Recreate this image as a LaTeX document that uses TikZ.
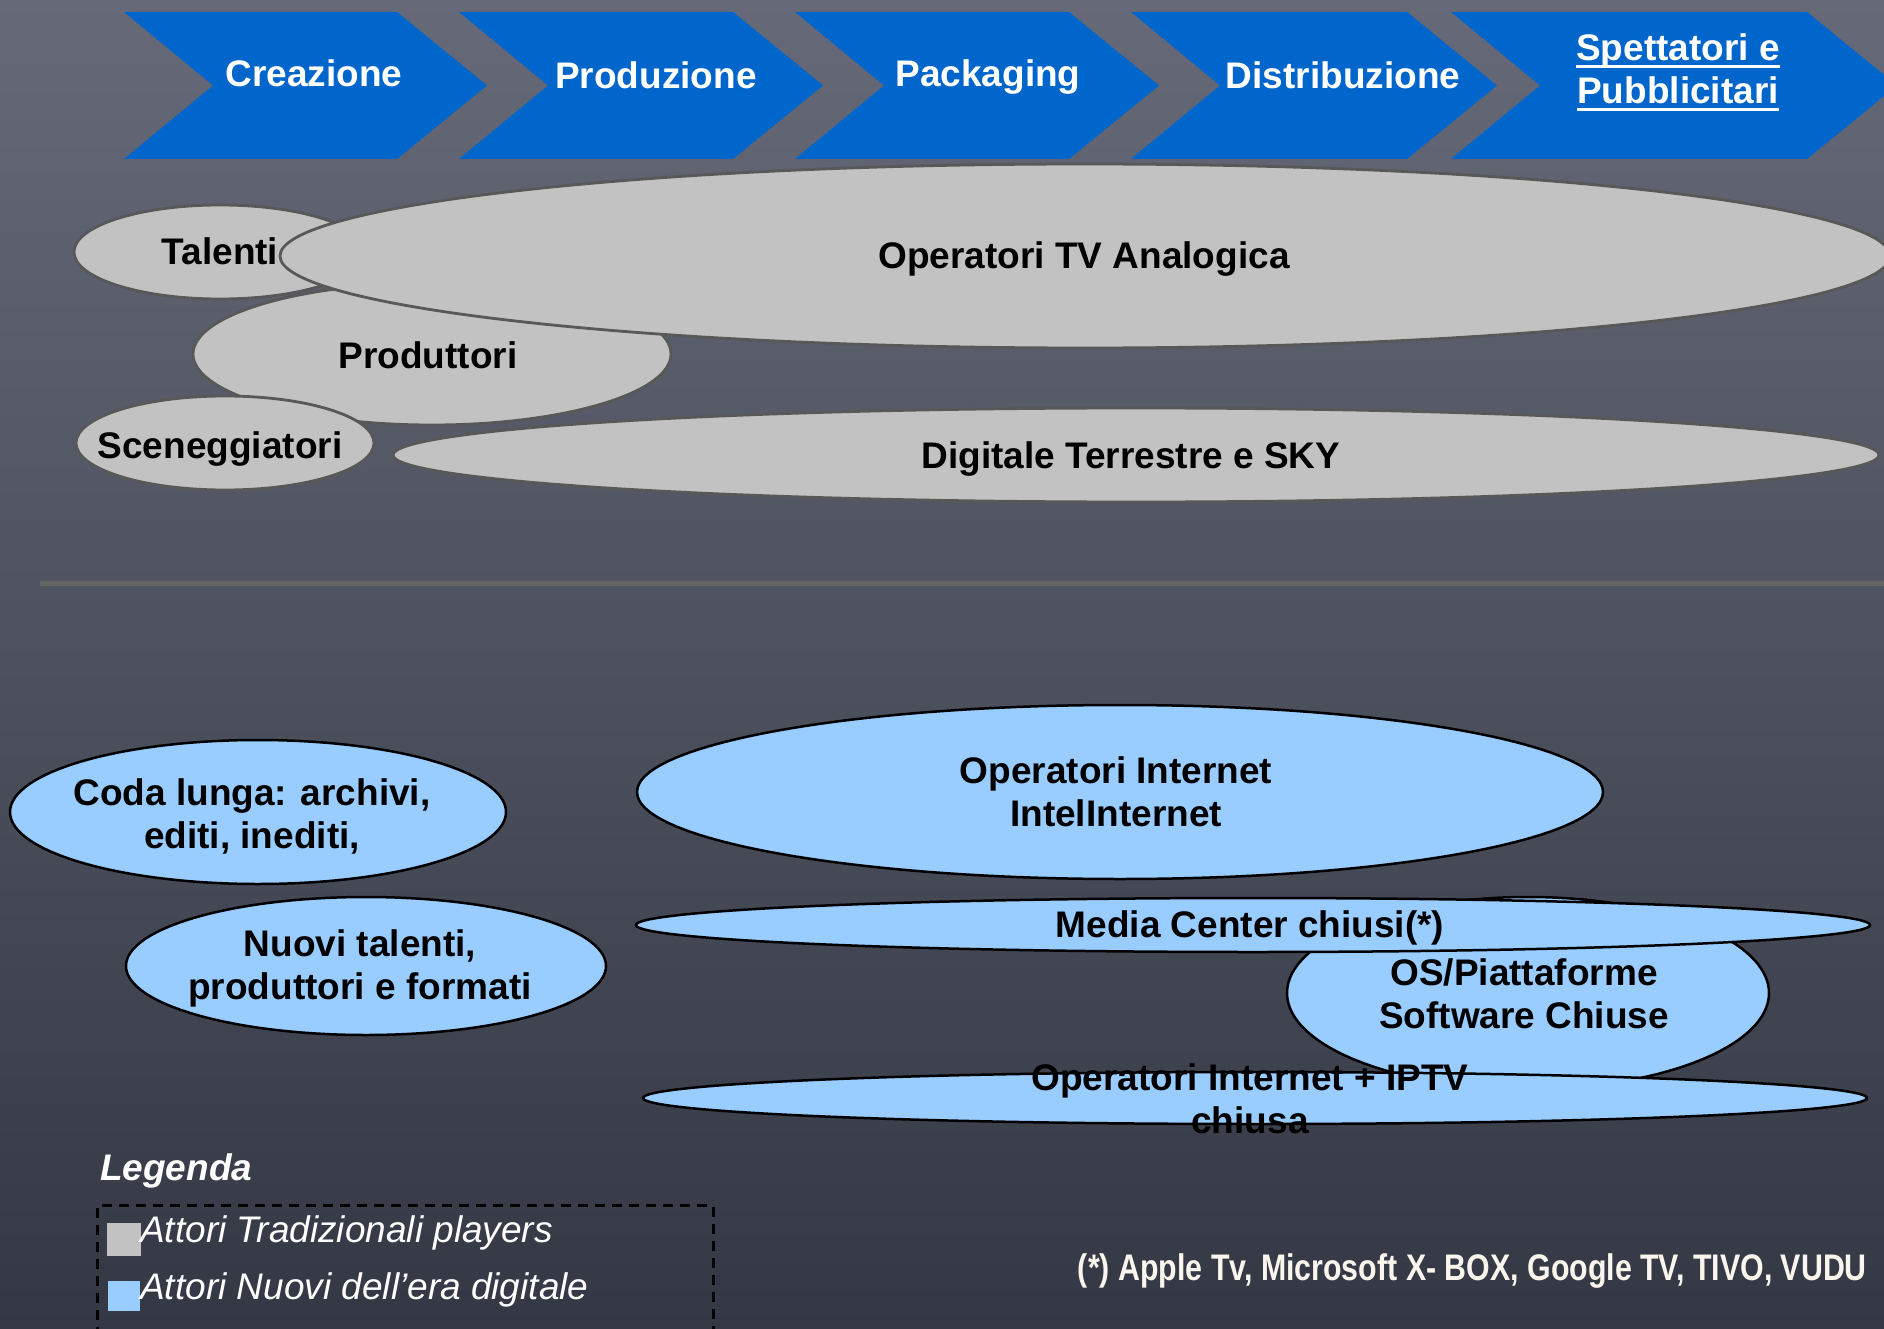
\documentclass[tikz,border=0pt]{standalone}
\usepackage{fontspec}
\setmainfont{Liberation Sans}
\newfontfamily\narrowfont[FakeStretch=0.82]{Liberation Sans}
\usetikzlibrary{shapes.geometric}
\definecolor{bgtop}{RGB}{102,106,120}
\definecolor{bgmid}{RGB}{82,88,104}
\definecolor{bgbot}{RGB}{52,56,68}
\definecolor{chevblue}{RGB}{0,102,204}
\definecolor{oldgray}{RGB}{194,194,194}
\definecolor{oldedge}{RGB}{88,88,88}
\definecolor{newblue}{RGB}{153,204,255}
\definecolor{sepline}{RGB}{100,100,98}
\definecolor{notewhite}{RGB}{250,246,238}
\newcommand\myul[1]{\setbox0\hbox{#1}\rlap{\rule[-8.3pt]{\wd0}{3.3pt}}\box0}
\tikzset{
  chev/.style={fill=chevblue, draw=none},
  oldell/.style={ellipse, fill=oldgray, draw=oldedge, line width=2.8pt, inner sep=0pt},
  newell/.style={ellipse, fill=newblue, draw=black, line width=2.5pt, inner sep=0pt},
  sz/.style 2 args={minimum width=#1pt, minimum height=#2pt},
  big/.style={font=\fontsize{37}{43}\selectfont\bfseries, inner sep=0pt},
  chevtxt/.style={big, text=white, align=center},
  elltxt/.style={big, text=black, align=center},
  legtxt/.style={font=\fontsize{37}{43}\selectfont\itshape, text=white, inner sep=0pt, anchor=base west},
}
\begin{document}
\begin{tikzpicture}[x=1pt,y=-1pt]
\path[use as bounding box] (0,0) rectangle (1884,1329);
\clip (0,0) rectangle (1884,1329);
\shade[top color=bgtop, middle color=bgmid, bottom color=bgbot] (0,0) rectangle (1884,1329);

% value chain chevrons
\foreach \a/\b in {124/397, 459/733, 795/1069, 1131/1407, 1451/1807}{
  \fill[chev] (\a,12) -- (\b,12) -- ({\b+90},85.5) -- (\b,159) -- (\a,159) -- ({\a+89},85.5) -- cycle;
}

% traditional players
\node[oldell, sz={292}{94}] (talenti) at (220,252) {};
\node[oldell, sz={478}{142}] (produttori) at (432,354) {};
\node[oldell, sz={1610}{184}] (tv) at (1085,256) {};
\node[oldell, sz={298}{94}] (scen) at (225,443) {};
\node[oldell, sz={1486}{94}] (dtt) at (1136,455) {};

% separator
\draw[sepline, line width=5pt] (40,583.5) -- (1884,583.5);

% new players
\node[newell, sz={496}{144}] (coda) at (258,812) {};
\node[newell, sz={480}{138}] (nuovi) at (366,966) {};
\node[newell, sz={966}{174}] (opint) at (1120,792) {};
\node[newell, sz={482}{192}] (os) at (1528,993) {};
\node[newell, sz={1234}{54}] (media) at (1253,925) {};
\node[newell, sz={1224}{52}] (iptv) at (1255,1098) {};

% chevron texts
\node[chevtxt, anchor=base] (t-crea) at (314,87) {Creazione};
\node[chevtxt, anchor=base] (t-prod) at (656,89) {Produzione};
\node[chevtxt, anchor=base] (t-pack) at (988,87) {Packaging};
\node[chevtxt, anchor=base] (t-dist) at (1343,89) {Distribuzione};
\node[chevtxt, anchor=north] (t-spet) at (1678,33) {\myul{Spettatori e}\\\myul{Pubblicitari}};

% ellipse texts
\node[elltxt, anchor=base] (t-talenti) at (220,265) {Talenti};
\node[elltxt, anchor=base] (t-produttori) at (428,368) {Produttori};
\node[elltxt, anchor=base] (t-scen) at (220,458) {Sceneggiatori};
\node[elltxt, anchor=base] (t-tv) at (1084,269) {Operatori TV Analogica};
\node[elltxt, anchor=base] (t-dtt) at (1131,468) {Digitale Terrestre e SKY};
\node[elltxt, anchor=north] (t-coda) at (252,778) {Coda lunga: archivi,\\editi, inediti,};
\node[elltxt, anchor=north] (t-nuovi) at (360,929) {Nuovi talenti,\\produttori e formati};
\node[elltxt, anchor=north] (t-opint) at (1116,756) {Operatori Internet\\IntelInternet};
\node[elltxt, anchor=base] (t-media) at (1250,937) {Media Center chiusi(*)};
\node[elltxt, anchor=north] (t-os) at (1524,958) {OS/Piattaforme\\Software Chiuse};
\node[elltxt, anchor=north] (t-iptv) at (1250,1063) {Operatori Internet + IPTV\\chiusa};

% legend
\node[font=\fontsize{37}{43}\selectfont\bfseries\itshape, text=white, inner sep=0pt, anchor=base west] (leg) at (100,1180) {Legenda};
\node[draw=black, line width=3pt, dash pattern=on 10pt off 7pt, rectangle, anchor=north west, minimum width=616pt, minimum height=160pt, inner sep=0pt] (legbox) at (95.5,1204) {};
\node[fill=oldgray, draw=none, anchor=north west, minimum width=34pt, minimum height=33pt, inner sep=0pt] (sq-old) at (107,1223) {};
\node[fill=newblue, draw=none, anchor=north west, minimum width=32pt, minimum height=30pt, inner sep=0pt] (sq-new) at (108,1281) {};
\node[legtxt] (l-old) at (140,1242) {Attori Tradizionali players};
\node[legtxt] (l-new) at (140,1299) {Attori Nuovi dell’era digitale};

% footnote
\node[font=\narrowfont\fontsize{37}{43}\selectfont\bfseries, text=notewhite, inner sep=0pt, anchor=base east] (note) at (1867,1280) {(*) Apple Tv, Microsoft X- BOX, Google TV, TIVO, VUDU};
\end{tikzpicture}
\end{document}
